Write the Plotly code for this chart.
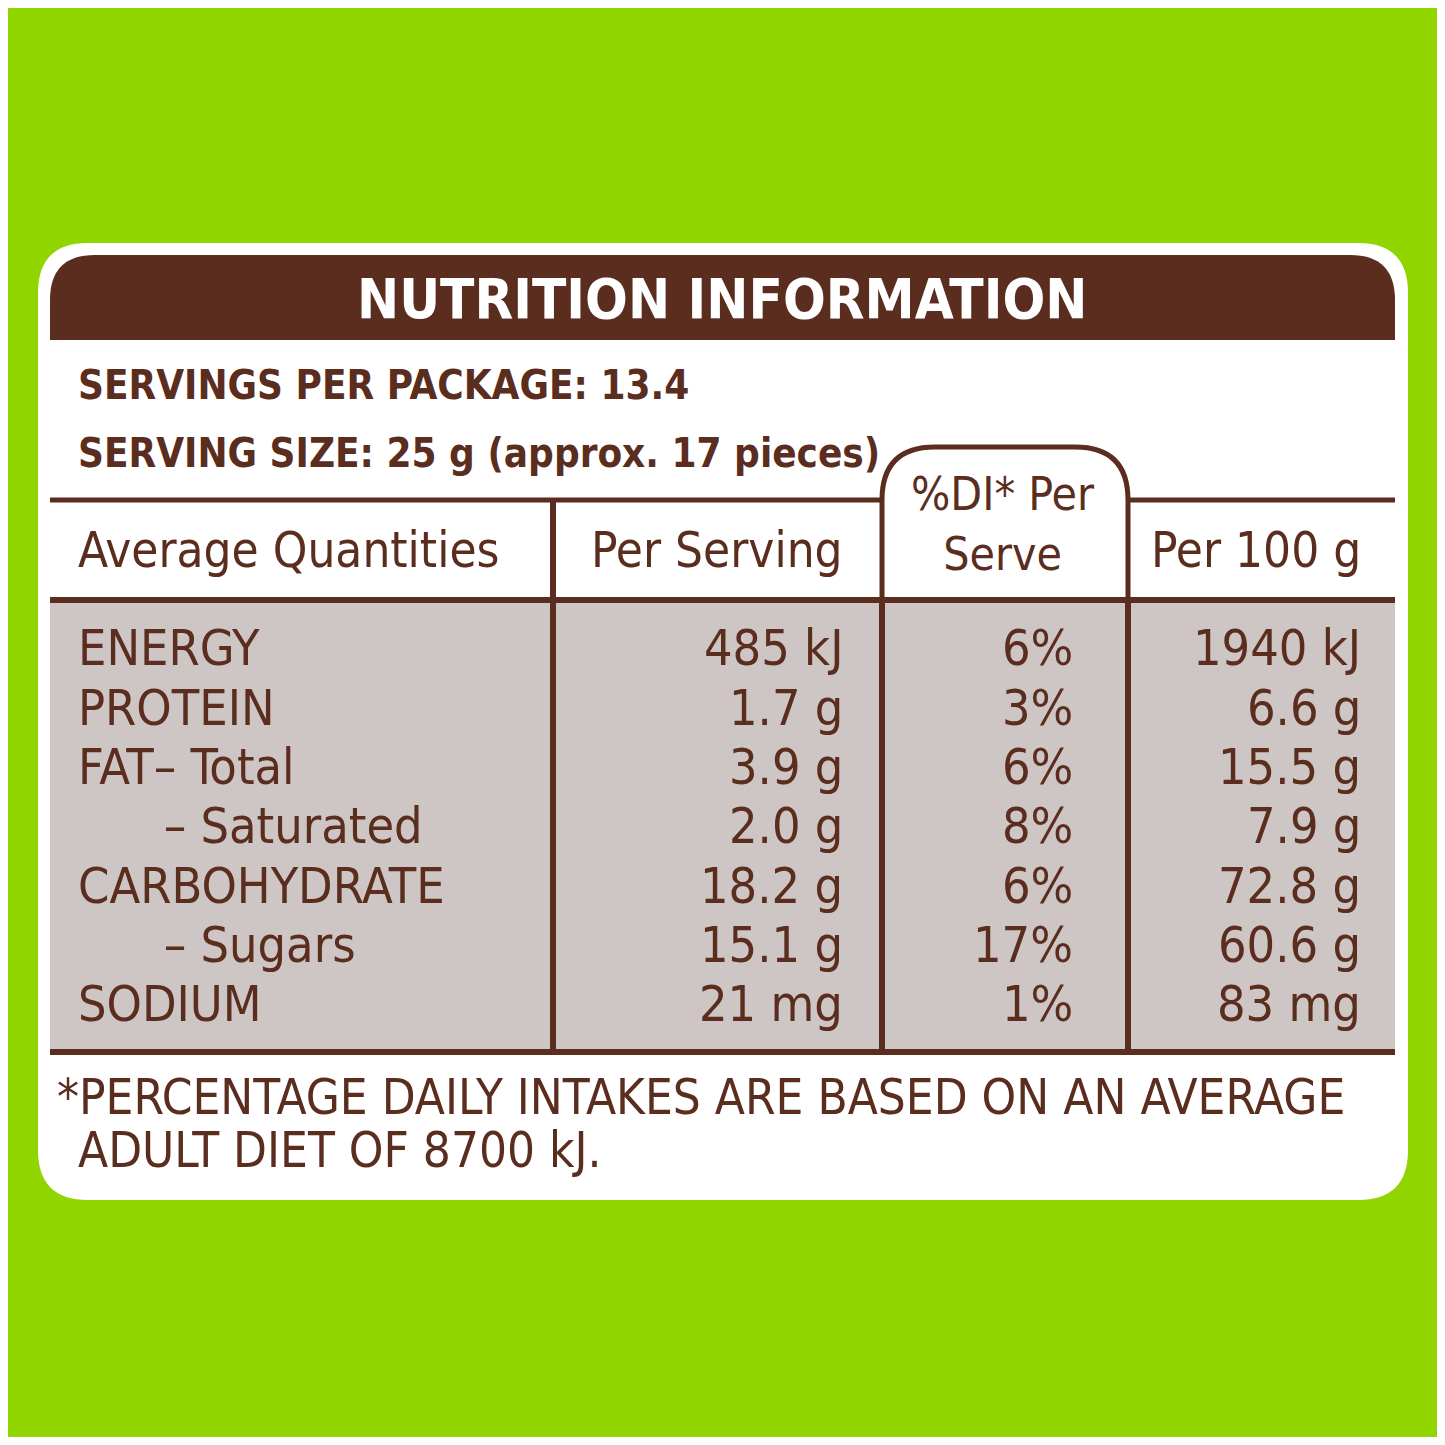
import plotly.graph_objects as go

BROWN = "#5a2d1e"
GREEN = "#91d500"
GREY = "#cdc6c4"

title = "NUTRITION INFORMATION"
servings_lines = ["SERVINGS PER PACKAGE: 13.4", "SERVING SIZE: 25 g (approx. 17 pieces)"]
col_headers = ["Average Quantities", "Per Serving", "%DI* Per<br>Serve", "Per 100 g"]
nutrients = ["ENERGY", "PROTEIN", "FAT\u2013 Total", "      \u2013 Saturated", "CARBOHYDRATE",
             "      \u2013 Sugars", "SODIUM"]
per_serving = ["485 kJ", "1.7 g", "3.9 g", "2.0 g", "18.2 g", "15.1 g", "21 mg"]
pct_di = ["6%", "3%", "6%", "8%", "6%", "17%", "1%"]
per_100g = ["1940 kJ", "6.6 g", "15.5 g", "7.9 g", "72.8 g", "60.6 g", "83 mg"]
footnote = ["*PERCENTAGE DAILY INTAKES ARE BASED ON AN AVERAGE", "ADULT DIET OF 8700 kJ."]

FONT = "DejaVu Sans Condensed"
fig = go.Figure()
shapes = []


def rrect(x0, y0, x1, y1, r, fill, line=None, lw=0, bottom=True):
    if bottom:
        p = (f"M{x0+r},{y0} L{x1-r},{y0} Q{x1},{y0} {x1},{y0+r} L{x1},{y1-r} Q{x1},{y1} {x1-r},{y1} "
             f"L{x0+r},{y1} Q{x0},{y1} {x0},{y1-r} L{x0},{y0+r} Q{x0},{y0} {x0+r},{y0} Z")
    else:
        p = (f"M{x0},{y1} L{x0},{y0+r} Q{x0},{y0} {x0+r},{y0} L{x1-r},{y0} Q{x1},{y0} {x1},{y0+r} "
             f"L{x1},{y1} Z")
    return dict(type="path", path=p, fillcolor=fill, line=dict(color=line or fill, width=lw), layer="below")


# background
shapes.append(dict(type="rect", x0=8, y0=8, x1=1437, y1=1437, fillcolor=GREEN, line_width=0, layer="below"))
shapes.append(rrect(38, 243, 1408, 1200, 50, "white"))
shapes.append(rrect(50, 255, 1395, 340, 45, BROWN, bottom=False))
# body
shapes.append(dict(type="rect", x0=50, y0=600, x1=1395, y1=1050, fillcolor=GREY, line_width=0, layer="below"))
# %DI tab outline
shapes.append(dict(type="path", path="M882,600 L882,500 Q882,447 935,447 L1075,447 Q1128,447 1128,500 L1128,600",
                   line=dict(color=BROWN, width=5)))
for x0, x1 in [(50, 882), (1128, 1395)]:
    shapes.append(dict(type="line", x0=x0, x1=x1, y0=500, y1=500, line=dict(color=BROWN, width=5)))
shapes.append(dict(type="line", x0=50, x1=1395, y0=600, y1=600, line=dict(color=BROWN, width=6)))
shapes.append(dict(type="line", x0=50, x1=1395, y0=1052, y1=1052, line=dict(color=BROWN, width=6)))
shapes.append(dict(type="line", x0=553, x1=553, y0=500, y1=1050, line=dict(color=BROWN, width=6)))
for x in [882, 1128]:
    shapes.append(dict(type="line", x0=x, x1=x, y0=600, y1=1050, line=dict(color=BROWN, width=6)))

ann = []


def txt(x, y, t, size, anchor="left", color=BROWN, family=FONT):
    ann.append(dict(x=x, y=y, text=t, showarrow=False, xanchor=anchor, yanchor="middle",
                    font=dict(family=family, size=size, color=color)))


txt(722, 298, f"<b>{title}</b>", 56, "center", "white")
txt(76, 385, f"<b>{servings_lines[0]}</b>", 40)
txt(76, 453, f"<b>{servings_lines[1]}</b>", 40)
txt(76, 550, col_headers[0], 49)
txt(845, 550, col_headers[1], 49, "right")
ann.append(dict(x=1003, y=524, text=col_headers[2], showarrow=False, xanchor="center", yanchor="middle",
                font=dict(family=FONT, size=46, color=BROWN)))
txt(1363, 550, col_headers[3], 49, "right")

row_y = [648, 708, 767, 826, 886, 945, 1004]
for i, y in enumerate(row_y):
    txt(76, y, nutrients[i].replace(" ", "\u00a0"), 50)
    txt(845, y, per_serving[i], 50, "right")
    txt(1075, y, pct_di[i], 50, "right")
    txt(1363, y, per_100g[i], 50, "right")

txt(55, 1097, footnote[0], 49)
txt(76, 1150, footnote[1], 49)

# ranges shifted by 8 to cancel the page's body margin
fig.update_layout(width=1445, height=1445, margin=dict(l=0, r=0, t=0, b=0),
                  paper_bgcolor="white", plot_bgcolor="white", shapes=shapes, annotations=ann,
                  xaxis=dict(range=[8, 1453], visible=False, fixedrange=True),
                  yaxis=dict(range=[1453, 8], visible=False, fixedrange=True),
                  showlegend=False)
fig.write_html("out.html", config={"displayModeBar": False})
